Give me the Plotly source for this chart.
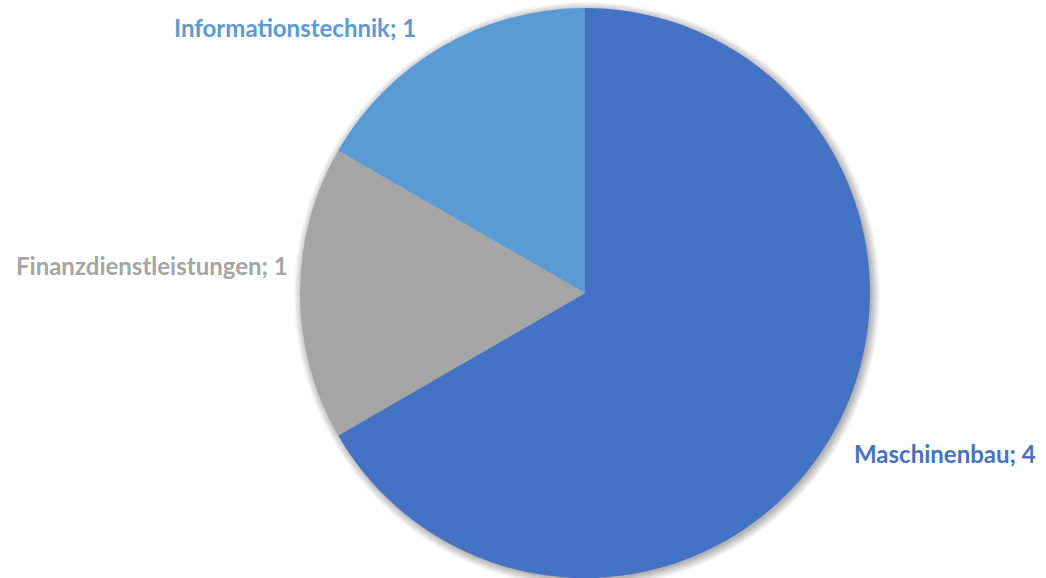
import plotly.graph_objects as go

# Branchenverteilung
categories = ["Maschinenbau", "Finanzdienstleistungen", "Informationstechnik"]
values = [4, 1, 1]
colors = ["#4472C4", "#A5A5A5", "#5B9BD5"]

W, H = 1046, 578
cx, cy, r = 585, 293, 285  # pixel centre and radius of the pie

fig = go.Figure()
fig.add_trace(go.Pie(
    labels=categories,
    values=values,
    sort=False,
    direction="clockwise",
    rotation=0,
    marker=dict(colors=colors, line=dict(width=0)),
    textinfo="none",
    hoverinfo="label+value",
    showlegend=False,
    domain=dict(x=[(cx - r) / W, (cx + r) / W], y=[(H - cy - r) / H, (H - cy + r) / H]),
))

# soft drop shadow behind the pie
shapes = []
for i, op in enumerate([0.04, 0.05, 0.05, 0.06, 0.06, 0.07]):
    rr = r + 8 - i * 1.6
    ox, oy = cx + 2, cy + 2
    shapes.append(dict(
        type="circle", xref="paper", yref="paper", layer="below",
        x0=(ox - rr) / W, x1=(ox + rr) / W,
        y0=(H - oy - rr) / H, y1=(H - oy + rr) / H,
        fillcolor=f"rgba(0,0,0,{op})", line=dict(width=0),
    ))

# data labels "Kategorie; Wert"
label_pos = {
    "Maschinenbau": (852, 453, "left"),
    "Finanzdienstleistungen": (290, 266, "right"),
    "Informationstechnik": (172, 27, "left"),
}
annotations = []
for cat, val, col in zip(categories, values, colors):
    x, y, anchor = label_pos[cat]
    annotations.append(dict(
        text=f"<b>{cat}; {val}</b>", x=x / W, y=(H - y) / H,
        xref="paper", yref="paper", xanchor=anchor, yanchor="middle",
        showarrow=False, font=dict(family="Lato", size=24, color=col),
    ))

fig.update_layout(
    width=W, height=H,
    margin=dict(l=0, r=0, t=0, b=0),
    paper_bgcolor="white", plot_bgcolor="white",
    shapes=shapes, annotations=annotations,
)
fig.write_html("out.html")
